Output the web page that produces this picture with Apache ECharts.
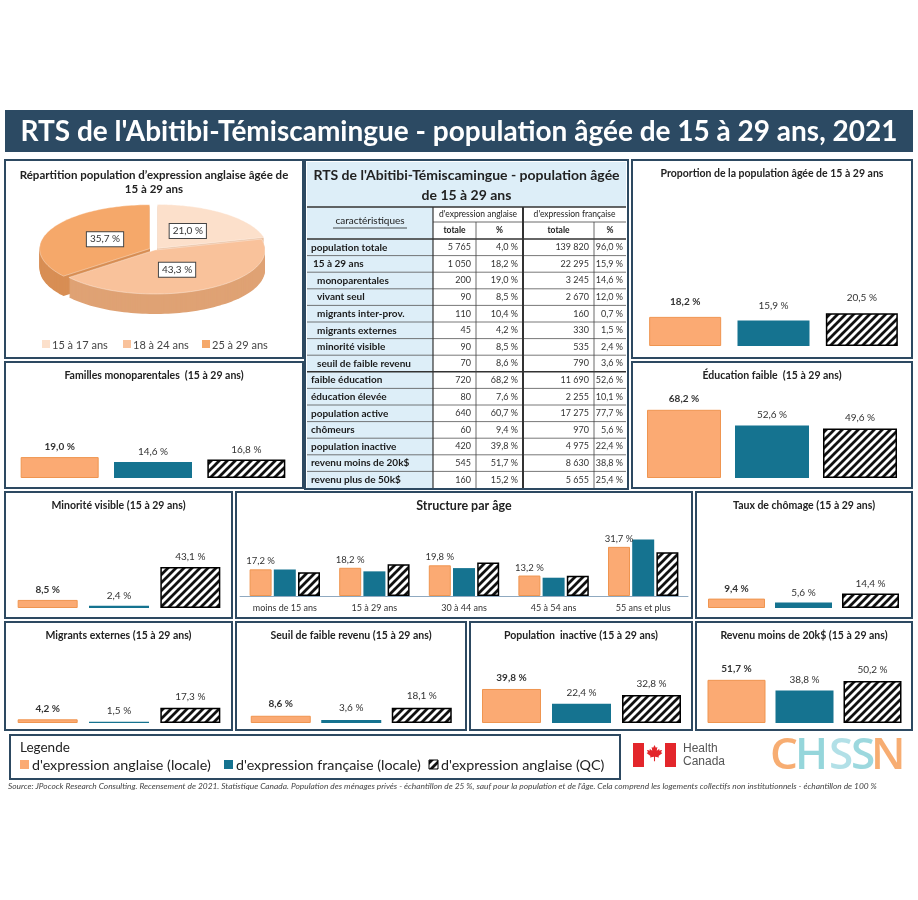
<!DOCTYPE html>
<html><head><meta charset="utf-8">
<script src="https://cdn.jsdelivr.net/npm/echarts@6/dist/echarts.min.js"></script>
<style>html,body{margin:0;padding:0;background:#fff}#c{width:918px;height:900px}</style>
</head><body><div id="c"></div><script>
// ---------------- DATA ----------------
const groupNames = ["d'expression anglaise (locale)", "d'expression française (locale)", "d'expression anglaise (QC)"];
const pieCategories = ['15 à 17 ans', '18 à 24 ans', '25 à 29 ans'];
const pieValues = [21.0, 43.3, 35.7];

const proportionValues = [18.2, 15.9, 20.5];
const monoparentalesValues = [19.0, 14.6, 16.8];
const educationFaibleValues = [68.2, 52.6, 49.6];
const minoriteValues = [8.5, 2.4, 43.1];
const chomageValues = [9.4, 5.6, 14.4];
const migrantsValues = [4.2, 1.5, 17.3];
const seuilValues = [8.6, 3.6, 18.1];
const inactiveValues = [39.8, 22.4, 32.8];
const revenuValues = [51.7, 38.8, 50.2];

const ageCategories = ['moins de 15 ans', '15 à 29 ans', '30 à 44 ans', '45 à 54 ans', '55 ans et plus'];
const ageAnglaise = [17.2, 18.2, 19.8, 13.2, 31.7];
const ageFrancaise = [17.1, 15.9, 18.0, 11.8, 36.5];
const ageQC = [15.3, 20.5, 21.6, 13.0, 28.3];

const tableRows = ['population totale', '15 à 29 ans', 'monoparentales', 'vivant seul', 'migrants inter-prov.', 'migrants externes', 'minorité visible', 'seuil de faible revenu', 'faible éducation', 'éducation élevée', 'population active', 'chômeurs', 'population inactive', 'revenu moins de 20k$', 'revenu plus de 50k$'];
const anglaiseTotale = [5765, 1050, 200, 90, 110, 45, 90, 70, 720, 80, 640, 60, 420, 545, 160];
const anglaisePct = [4.0, 18.2, 19.0, 8.5, 10.4, 4.2, 8.5, 8.6, 68.2, 7.6, 60.7, 9.4, 39.8, 51.7, 15.2];
const francaiseTotale = [139820, 22295, 3245, 2670, 160, 330, 535, 790, 11690, 2255, 17275, 970, 4975, 8630, 5655];
const francaisePct = [96.0, 15.9, 14.6, 12.0, 0.7, 1.5, 2.4, 3.6, 52.6, 10.1, 77.7, 5.6, 22.4, 38.8, 25.4];

// ---------------- STYLE ----------------
const FONT = 'Lato';
const ORANGE = '#FBAA73', ORANGE_B = '#EF9550', TEAL = '#157390', DARK = '#2D4961';
const pieColors = ['#FCE0CB', '#F9C29B', '#F5A86A'];
const pieSide = ['#E9BE9E', '#DFA274', '#D88E54'];

function fmtPct(v) { return v.toFixed(1).replace('.', ',') + ' %'; }
function fmtInt(v) { return String(v).replace(/\B(?=(\d{3})+(?!\d))/g, ' '); }

const hatch = (function () {
  const c = document.createElement('canvas'); c.width = 8; c.height = 8;
  const g = c.getContext('2d');
  g.fillStyle = '#fff'; g.fillRect(0, 0, 8, 8);
  g.strokeStyle = '#111'; g.lineWidth = 2.8;
  g.beginPath();
  g.moveTo(-2, 10); g.lineTo(10, -2);
  g.moveTo(-6, 6); g.lineTo(6, -6);
  g.moveTo(2, 14); g.lineTo(14, 2);
  g.stroke();
  return c;
})();
const barStyles = [
  { color: ORANGE, borderColor: ORANGE_B, borderWidth: 1 },
  { color: TEAL },
  { color: { image: hatch, repeat: 'repeat' }, borderColor: '#000', borderWidth: 1.5 }
];

// ---------------- LAYOUT ----------------
const panels = [
  { rect: [5, 160, 298, 198] },             // pie
  { rect: [305, 160, 323, 329] },           // table
  { rect: [632, 160, 280, 198], title: 'Proportion de la population âgée de 15 à 29 ans', values: proportionValues, left: 641, width: 265, base: 346, ppu: 1.6, bw: 72, dist: 10 },
  { rect: [5, 362, 298, 126], title: 'Familles monoparentales  (15 à 29 ans)', values: monoparentalesValues, left: 13, width: 280, base: 478, ppu: 1.1, bw: 78, dist: 5 },
  { rect: [632, 362, 280, 126], title: 'Éducation faible  (15 à 29 ans)', values: educationFaibleValues, left: 640, width: 264, base: 478, ppu: 1.0, bw: 74, dist: 6 },
  { rect: [5, 492, 227, 126], title: 'Minorité visible (15 à 29 ans)', values: minoriteValues, left: 12, width: 214, base: 608, ppu: 0.95, bw: 60, dist: 5 },
  { rect: [236, 492, 456, 126] },           // structure
  { rect: [696, 492, 216, 126], title: 'Taux de chômage (15 à 29 ans)', values: chomageValues, left: 703, width: 201, base: 608, ppu: 1.0, bw: 57, dist: 5 },
  { rect: [5, 622, 227, 108], title: 'Migrants externes (15 à 29 ans)', values: migrantsValues, left: 12, width: 214, base: 723, ppu: 0.88, bw: 60, dist: 6 },
  { rect: [236, 622, 230, 108], title: 'Seuil de faible revenu (15 à 29 ans)', values: seuilValues, left: 245.5, width: 211.5, base: 723, ppu: 0.84, bw: 60, dist: 7 },
  { rect: [470, 622, 222, 108], title: 'Population  inactive (15 à 29 ans)', values: inactiveValues, left: 476.5, width: 210, base: 723, ppu: 0.855, bw: 59, dist: 6 },
  { rect: [696, 622, 216, 108], title: 'Revenu moins de 20k$ (15 à 29 ans)', values: revenuValues, left: 702.5, width: 204, base: 723, ppu: 0.835, bw: 58, dist: 6 }
];

const grids = [], xAxes = [], yAxes = [], series = [], graphics = [];

// panel frames + titles
panels.forEach(p => {
  const [x, y, w, h] = p.rect;
  graphics.push({ type: 'rect', shape: { x, y, width: w, height: h }, style: { fill: 'none', stroke: DARK, lineWidth: 2 }, z: 10 });
  if (p.title) {
    graphics.push({ type: 'text', x: x + w / 2, y: y + 14, style: { text: p.title, font: 'bold 10.5px ' + FONT, fill: '#222', textAlign: 'center', textVerticalAlign: 'middle' } });
  }
});

// small bar panels
panels.filter(p => p.values).forEach(p => {
  const idx = grids.length;
  const h = p.ppu * 100;
  grids.push({ left: p.left, top: p.base - h, width: p.width, height: h });
  xAxes.push({ type: 'category', gridIndex: idx, data: groupNames, show: false });
  yAxes.push({ type: 'value', gridIndex: idx, min: 0, max: 100, show: false });
  series.push({
    type: 'bar', xAxisIndex: idx, yAxisIndex: idx, barWidth: p.bw, silent: true,
    data: p.values.map((v, k) => ({ value: v, itemStyle: barStyles[k], label: { fontWeight: k === 0 ? 'bold' : 'normal' } })),
    label: { show: true, position: 'top', distance: p.dist, formatter: q => fmtPct(q.value), color: '#333', fontSize: 10, fontFamily: FONT }
  });
});

// structure par age
(function () {
  const idx = grids.length;
  grids.push({ left: 240, top: 534, width: 448, height: 62 });
  xAxes.push({ type: 'category', gridIndex: idx, data: ageCategories, axisLine: { lineStyle: { color: '#8FA9C0', width: 1 } }, axisTick: { show: false }, axisLabel: { fontSize: 9, color: '#333', fontFamily: FONT, margin: 8 } });
  yAxes.push({ type: 'value', gridIndex: idx, min: 0, max: 40, show: false });
  [ageAnglaise, ageFrancaise, ageQC].forEach((vals, k) => {
    series.push({
      type: 'bar', name: groupNames[k], xAxisIndex: idx, yAxisIndex: idx, barWidth: 22, barGap: '10%', silent: true,
      itemStyle: barStyles[k], data: vals,
      label: { show: k === 0, position: 'top', distance: 3, formatter: q => fmtPct(q.value), color: '#333', fontSize: 9.5, fontFamily: FONT }
    });
  });
  graphics.push({ type: 'text', x: 464, y: 506, style: { text: 'Structure par âge', font: 'bold 12.5px ' + FONT, fill: '#222', textAlign: 'center', textVerticalAlign: 'middle' } });
})();

// pie (3D-look ellipse) via custom series
const PIE = { cx: 155, cy: 250, rx: 110, ry: 44, depth: 20, explode: [4, 0, 6], order: [0, 200, 100] };
const pieTotal = pieValues.reduce((a, b) => a + b, 0);
series.push({
  type: 'custom', coordinateSystem: 'none', silent: true, data: pieValues,
  renderItem: function (params, api) {
    const i = params.dataIndex;
    let acc = 0; for (let j = 0; j < i; j++) acc += pieValues[j];
    const a0 = acc / pieTotal * 360, a1 = (acc + api.value(0)) / pieTotal * 360;
    const mid = (a0 + a1) / 2 * Math.PI / 180;
    const ex = PIE.explode[i];
    const cx = PIE.cx + Math.sin(mid) * ex, cy = PIE.cy - Math.cos(mid) * ex * 0.5;
    const pts = [[cx, cy]];
    const n = 80;
    for (let s = 0; s <= n; s++) {
      const r = (a0 + (a1 - a0) * s / n) * Math.PI / 180;
      pts.push([cx + PIE.rx * Math.sin(r), cy - PIE.ry * Math.cos(r)]);
    }
    const base = PIE.order[i];
    const children = [];
    for (let d = PIE.depth; d >= 1; d--) {
      children.push({ type: 'polygon', z2: base + (PIE.depth - d), shape: { points: pts.map(p => [p[0], p[1] + d]) }, style: { fill: pieSide[i] } });
    }
    children.push({ type: 'polygon', z2: base + 50, shape: { points: pts }, style: { fill: pieColors[i], stroke: 'rgba(255,255,255,0.6)', lineWidth: 0.6 } });
    const lx = cx + Math.sin(mid) * PIE.rx * 0.45, ly = cy - Math.cos(mid) * PIE.ry * 0.5;
    children.push({ type: 'text', z2: 1000, x: lx, y: ly, style: { text: fmtPct(api.value(0)), font: '10px ' + FONT, fill: '#333', align: 'center', verticalAlign: 'middle', backgroundColor: '#fff', borderColor: '#444', borderWidth: 1, padding: [2, 3] } });
    return { type: 'group', children };
  }
});
graphics.push({ type: 'text', x: 154, y: 175, style: { text: "Répartition population d’expression anglaise âgée de", font: 'bold 11.5px ' + FONT, fill: '#222', textAlign: 'center', textVerticalAlign: 'middle' } });
graphics.push({ type: 'text', x: 154, y: 189, style: { text: '15 à 29 ans', font: 'bold 11.5px ' + FONT, fill: '#222', textAlign: 'center', textVerticalAlign: 'middle' } });
[42, 123, 202].forEach((lx, k) => {
  graphics.push({ type: 'rect', shape: { x: lx, y: 340, width: 8, height: 8 }, style: { fill: pieColors[k] } });
  graphics.push({ type: 'text', x: lx + 10, y: 345, style: { text: pieCategories[k], font: '11px ' + FONT, fill: '#444', textVerticalAlign: 'middle' } });
});

// title bar
graphics.push({ type: 'rect', shape: { x: 5, y: 110, width: 908, height: 42 }, style: { fill: '#2C4A63' } });
graphics.push({ type: 'text', x: 459, y: 132, style: { text: "RTS de l'Abitibi-Témiscamingue - population âgée de 15 à 29 ans, 2021", font: 'bold 28px ' + FONT, fill: '#fff', textAlign: 'center', textVerticalAlign: 'middle' } });

// table
(function () {
  const X = [307, 433, 476, 523, 594, 626];
  const yT = 162, yH1 = 207, yH2 = 222, yD = 239, pitch = 16.6;
  const yEnd = yD + pitch * tableRows.length;
  const LB = '#DDEEF8';
  graphics.push({ type: 'rect', shape: { x: X[0], y: yT, width: X[5] - X[0], height: yH1 - yT }, style: { fill: LB } });
  graphics.push({ type: 'rect', shape: { x: X[0], y: yH1, width: X[1] - X[0], height: yEnd - yH1 }, style: { fill: LB } });
  graphics.push({ type: 'text', x: (X[0] + X[5]) / 2, y: 175, style: { text: "RTS de l'Abitibi-Témiscamingue - population âgée", font: 'bold 14px ' + FONT, fill: '#222', textAlign: 'center', textVerticalAlign: 'middle' } });
  graphics.push({ type: 'text', x: (X[0] + X[5]) / 2, y: 195, style: { text: 'de 15 à 29 ans', font: 'bold 14px ' + FONT, fill: '#222', textAlign: 'center', textVerticalAlign: 'middle' } });
  const line = (x1, y1, x2, y2, w, c) => graphics.push({ type: 'line', shape: { x1, y1, x2, y2 }, style: { stroke: c || '#444', lineWidth: w || 0.8 } });
  line(X[0], yH1, X[5], yH1, 1.5, '#333');
  line(X[1], yH2, X[5], yH2, 0.8);
  line(X[0], yD, X[5], yD, 1.5, '#333');
  for (let r = 1; r < tableRows.length; r++) {
    const y = yD + pitch * r;
    line(X[0], y, X[5], y, r === 8 ? 1.5 : 0.8, r === 8 ? '#333' : '#555');
  }
  line(X[1], yH1, X[1], yEnd, 1.2, '#333');
  line(X[2], yH2, X[2], yEnd, 0.8);
  line(X[3], yH1, X[3], yEnd, 2, '#333');
  line(X[4], yH2, X[4], yEnd, 0.8);
  const hdr = (t, x, y, f) => graphics.push({ type: 'text', x, y, style: { text: t, font: f, fill: '#222', textAlign: 'center', textVerticalAlign: 'middle' } });
  hdr("d'expression anglaise", (X[1] + X[3]) / 2, (yH1 + yH2) / 2, '8.5px ' + FONT);
  hdr("d'expression française", (X[3] + X[5]) / 2, (yH1 + yH2) / 2, '8.5px ' + FONT);
  hdr('totale', (X[1] + X[2]) / 2, (yH2 + yD) / 2, 'bold 8.5px ' + FONT);
  hdr('%', (X[2] + X[3]) / 2, (yH2 + yD) / 2, 'bold 8.5px ' + FONT);
  hdr('totale', (X[3] + X[4]) / 2, (yH2 + yD) / 2, 'bold 8.5px ' + FONT);
  hdr('%', (X[4] + X[5]) / 2, (yH2 + yD) / 2, 'bold 8.5px ' + FONT);
  hdr('caractéristiques', (X[0] + X[1]) / 2, 221, '10px ' + FONT);
  line(333, 228, 407, 228, 0.8, '#222');
  const indent = [0, 2, 6, 6, 6, 6, 6, 6, 0, 0, 0, 0, 0, 0, 0];
  const pad = [5, 5, 5, 3];
  tableRows.forEach((name, r) => {
    const yc = yD + pitch * r + pitch / 2;
    graphics.push({ type: 'text', x: X[0] + 4 + indent[r], y: yc, style: { text: name, font: 'bold 10px ' + FONT, fill: '#1a1a1a', textVerticalAlign: 'middle' } });
    const vals = [fmtInt(anglaiseTotale[r]), fmtPct(anglaisePct[r]), fmtInt(francaiseTotale[r]), fmtPct(francaisePct[r])];
    vals.forEach((t, c) => graphics.push({ type: 'text', x: X[c + 2] - pad[c], y: yc, style: { text: t, font: '9px ' + FONT, fill: '#333', textAlign: 'right', textVerticalAlign: 'middle' } }));
  });
})();

// legend box
graphics.push({ type: 'rect', shape: { x: 10, y: 735, width: 610, height: 44 }, style: { fill: 'none', stroke: DARK, lineWidth: 2 }, z: 10 });
graphics.push({ type: 'text', x: 20, y: 748, style: { text: 'Legende', font: '13.5px ' + FONT, fill: '#222', textVerticalAlign: 'middle' } });
[20, 224, 429].forEach((lx, k) => {
  const st = k === 2 ? { fill: { image: hatch, repeat: 'repeat' }, stroke: '#000', lineWidth: 1 } : { fill: k === 0 ? ORANGE : TEAL };
  graphics.push({ type: 'rect', shape: { x: lx, y: 760, width: 9, height: 9 }, style: st });
  graphics.push({ type: 'text', x: lx + 12, y: 765, style: { text: groupNames[k], font: '14.3px ' + FONT, fill: '#222', textVerticalAlign: 'middle' } });
});

// Health Canada logo
graphics.push({ type: 'rect', shape: { x: 633, y: 743, width: 11, height: 24 }, style: { fill: '#E3262B' } });
graphics.push({ type: 'rect', shape: { x: 665, y: 743, width: 11, height: 24 }, style: { fill: '#E3262B' } });
(function () {
  const leaf = [[0, -1], [0.15, -0.7], [0.32, -0.78], [0.25, -0.35], [0.55, -0.58], [0.5, -0.4], [0.85, -0.45], [0.72, -0.2], [0.88, -0.1], [0.45, 0.22], [0.5, 0.38], [0.06, 0.3], [0.06, 0.8], [-0.06, 0.8], [-0.06, 0.3], [-0.5, 0.38], [-0.45, 0.22], [-0.88, -0.1], [-0.72, -0.2], [-0.85, -0.45], [-0.5, -0.4], [-0.55, -0.58], [-0.25, -0.35], [-0.32, -0.78], [-0.15, -0.7]];
  graphics.push({ type: 'polygon', shape: { points: leaf.map(p => [654.5 + p[0] * 9, 754 + p[1] * 9]) }, style: { fill: '#E3262B' } });
})();
graphics.push({ type: 'text', x: 683, y: 749, style: { text: 'Health', font: '12px "Liberation Sans"', fill: '#555', textVerticalAlign: 'middle' } });
graphics.push({ type: 'text', x: 683, y: 762, style: { text: 'Canada', font: '12px "Liberation Sans"', fill: '#555', textVerticalAlign: 'middle' } });

// CHSSN logo
[['C', 770, '#F6A25E'], ['H', 795, '#86D0D6'], ['S', 829, '#A7DCE4'], ['S', 851, '#8ED3D9'], ['N', 871, '#F6A25E']].forEach(l => {
  graphics.push({ type: 'text', x: l[1], y: 756, style: { text: l[0], font: '600 44px "Open Sans"', fill: l[2], textVerticalAlign: 'middle', opacity: 0.88 } });
});

// source
graphics.push({ type: 'text', x: 8, y: 786, style: { text: "Source: JPocock Research Consulting. Recensement de 2021. Statistique Canada. Population des ménages privés - échantillon de 25 %, sauf pour la population et de l'âge. Cela comprend les logements collectifs non institutionnels - échantillon de 100 %", font: 'italic 8.4px ' + FONT, fill: '#444', textVerticalAlign: 'middle' } });

const chart = echarts.init(document.getElementById('c'));
chart.setOption({
  backgroundColor: '#fff',
  animation: false,
  grid: grids, xAxis: xAxes, yAxis: yAxes, series: series,
  graphic: { elements: graphics }
});
</script></body></html>
